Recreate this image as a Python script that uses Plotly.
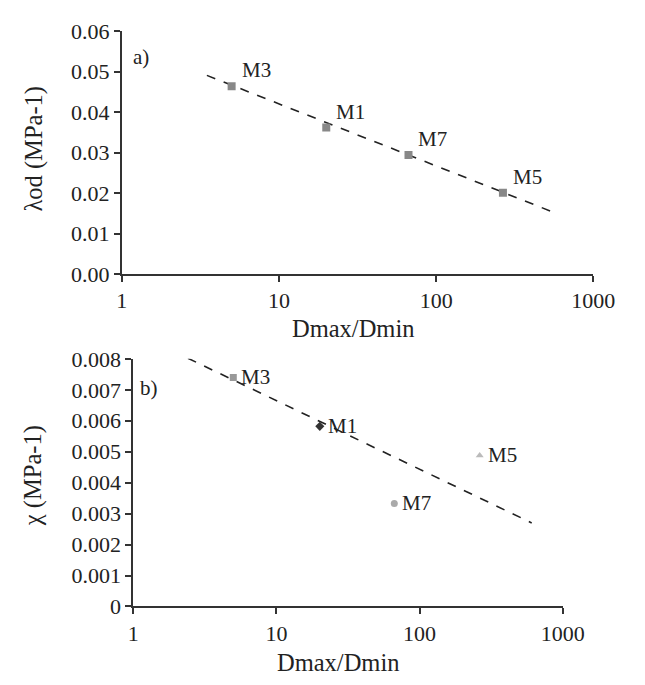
import math
import plotly.graph_objects as go

# Panel a) data
a_names = ["M3", "M1", "M7", "M5"]
a_x = [5.0, 20.0, 66.7, 266.0]
a_y = [0.0464, 0.0362, 0.0294, 0.0201]
a_trend_x = [3.48, 531.0]
a_trend_y = [0.0491, 0.0156]

# Panel b) data
b_names = ["M3", "M1", "M5", "M7"]
b_x = [5.0, 20.1, 263.0, 66.6]
b_y = [0.0074, 0.00582, 0.00488, 0.00333]
b_symbols = ["square", "diamond", "triangle-up", "circle"]
b_colors = ["#999999", "#333333", "#bbbbbb", "#aaaaaa"]
b_trend_x = [2.41, 607.0]
b_trend_y = [0.00802, 0.0027]

x_ticks = [1, 10, 100, 1000]
x_ticktext = ["1", "10", "100", "1000"]
a_yticks = [0.0, 0.01, 0.02, 0.03, 0.04, 0.05, 0.06]
b_yticks = [0, 0.001, 0.002, 0.003, 0.004, 0.005, 0.006, 0.007, 0.008]
b_yticktext = ["0", "0.001", "0.002", "0.003", "0.004", "0.005", "0.006", "0.007", "0.008"]

W, H = 645, 685
FONT = "Liberation Serif, Times New Roman, serif"
TICK_FS = 22
TITLE_FS = 24.5
LABEL_FS = 21
AX = "#333333"
TXT = "#222222"

fig = go.Figure()

# Panel a
fig.add_trace(go.Scatter(x=a_trend_x, y=a_trend_y, mode="lines",
                         line=dict(color="#222222", width=1.6, dash="dash"),
                         xaxis="x", yaxis="y", showlegend=False))
fig.add_trace(go.Scatter(x=a_x, y=a_y, mode="markers",
                         marker=dict(symbol="square", size=8, color="#888888"),
                         xaxis="x", yaxis="y", showlegend=False))

# Panel b
fig.add_trace(go.Scatter(x=b_trend_x, y=b_trend_y, mode="lines",
                         line=dict(color="#222222", width=1.6, dash="dash"),
                         xaxis="x2", yaxis="y2", showlegend=False))
for xv, yv, s, c in zip(b_x, b_y, b_symbols, b_colors):
    fig.add_trace(go.Scatter(x=[xv], y=[yv], mode="markers",
                             marker=dict(symbol=s, size=7, color=c),
                             xaxis="x2", yaxis="y2", showlegend=False))

ann = []
for n, xv, yv in zip(a_names, a_x, a_y):
    ann.append(dict(x=math.log10(xv), y=yv, xref="x", yref="y", text=n,
                    showarrow=False, xanchor="left", yanchor="middle",
                    xshift=8, yshift=16, font=dict(family=FONT, size=LABEL_FS, color=TXT)))
for n, xv, yv in zip(b_names, b_x, b_y):
    ann.append(dict(x=math.log10(xv), y=yv, xref="x2", yref="y2", text=n,
                    showarrow=False, xanchor="left", yanchor="middle",
                    xshift=6, yshift=0, font=dict(family=FONT, size=LABEL_FS, color=TXT)))

def px(xp, yp):
    return xp / W, 1 - yp / H

for text, (xp, yp), ang, fs in [
    ("a)", (141, 47), 0, LABEL_FS),
    ("b)", (150, 390), 0, LABEL_FS),
    ("Dmax/Dmin", (363, 328), 0, TITLE_FS),
    ("Dmax/Dmin", (348, 675), 0, TITLE_FS),
    ("λod (MPa-1)", (29, 142), -90, TITLE_FS),
    ("χ (MPa-1)", (29, 481), -90, TITLE_FS),
]:
    fx, fy = px(xp, yp)
    ann.append(dict(x=fx, y=fy, xref="paper", yref="paper", text=text,
                    showarrow=False, xanchor="center", yanchor="middle",
                    textangle=ang, font=dict(family=FONT, size=fs, color=TXT)))

axis_common = dict(showgrid=False, zeroline=False, showline=True, linecolor=AX,
                   linewidth=1.5, ticks="outside", ticklen=6, tickcolor=AX, tickwidth=1.5,
                   tickfont=dict(family=FONT, size=TICK_FS, color=TXT))

fig.update_layout(
    width=W, height=H, margin=dict(l=0, r=0, t=0, b=0),
    paper_bgcolor="white", plot_bgcolor="white",
    xaxis=dict(type="log", range=[0, 3], domain=[121 / W, 614 / W],
               tickvals=x_ticks, ticktext=x_ticktext,
               anchor="y", **axis_common),
    yaxis=dict(range=[0, 0.06], domain=[1 - 272 / H, 1 - 20 / H],
               tickvals=a_yticks, tickformat=".2f", anchor="x", **axis_common),
    xaxis2=dict(type="log", range=[0, 3], domain=[133 / W, 582 / W],
                tickvals=x_ticks, ticktext=x_ticktext,
                anchor="y2", **axis_common),
    yaxis2=dict(range=[0, 0.008], domain=[1 - 617 / H, 1 - 360 / H],
                tickvals=b_yticks, ticktext=b_yticktext, anchor="x2", **axis_common),
    annotations=ann,
)

fig.write_html("out.html")
